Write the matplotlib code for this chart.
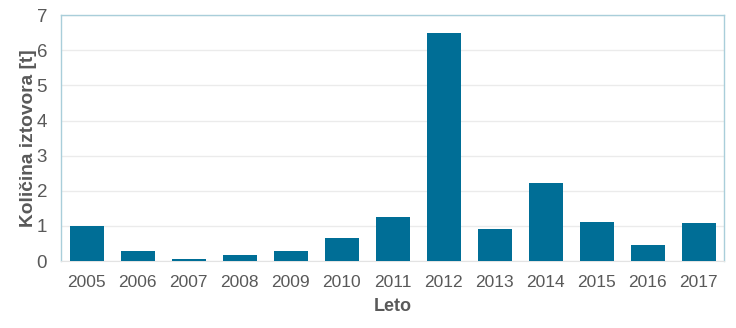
import matplotlib
matplotlib.use("Agg")
import matplotlib.pyplot as plt

plt.rcParams["font.family"] = ["Liberation Sans", "DejaVu Sans"]

years = ["2005", "2006", "2007", "2008", "2009", "2010", "2011",
         "2012", "2013", "2014", "2015", "2016", "2017"]
amounts = [0.99, 0.29, 0.05, 0.16, 0.28, 0.65, 1.25,
           6.48, 0.90, 2.22, 1.10, 0.46, 1.08]

BAR = "#006E96"
TXT = "#595959"

fig = plt.figure(figsize=(7.36, 3.28), dpi=100)
ax = fig.add_axes([0.083, 0.204, 0.901, 0.750])

x = range(len(years))
ax.bar(x, amounts, width=0.67, color=BAR, zorder=3)

ax.set_xlim(-0.5, len(years) - 0.5)
ax.set_ylim(0, 7)
ax.set_yticks(range(0, 8))
ax.set_xticks(list(x))
ax.set_xticklabels(years)

ax.grid(axis="y", color="#EBEBEB", linewidth=1, zorder=0)
ax.tick_params(axis="both", length=0, colors=TXT)
ax.tick_params(axis="x", pad=10, labelsize=12.5)
ax.tick_params(axis="y", pad=10, labelsize=13.5)

for side in ["left", "right", "top"]:
    ax.spines[side].set_color("#A9CEDA")
    ax.spines[side].set_linewidth(1)
ax.spines["bottom"].set_color("#E3E3E3")

ax.set_xlabel("Leto", fontsize=13, fontweight="bold", color=TXT, labelpad=6)
ax.set_ylabel("Količina iztovora [t]", fontsize=13.8, fontweight="bold",
              color=TXT, labelpad=0)

fig.savefig("out.png", dpi=100)
